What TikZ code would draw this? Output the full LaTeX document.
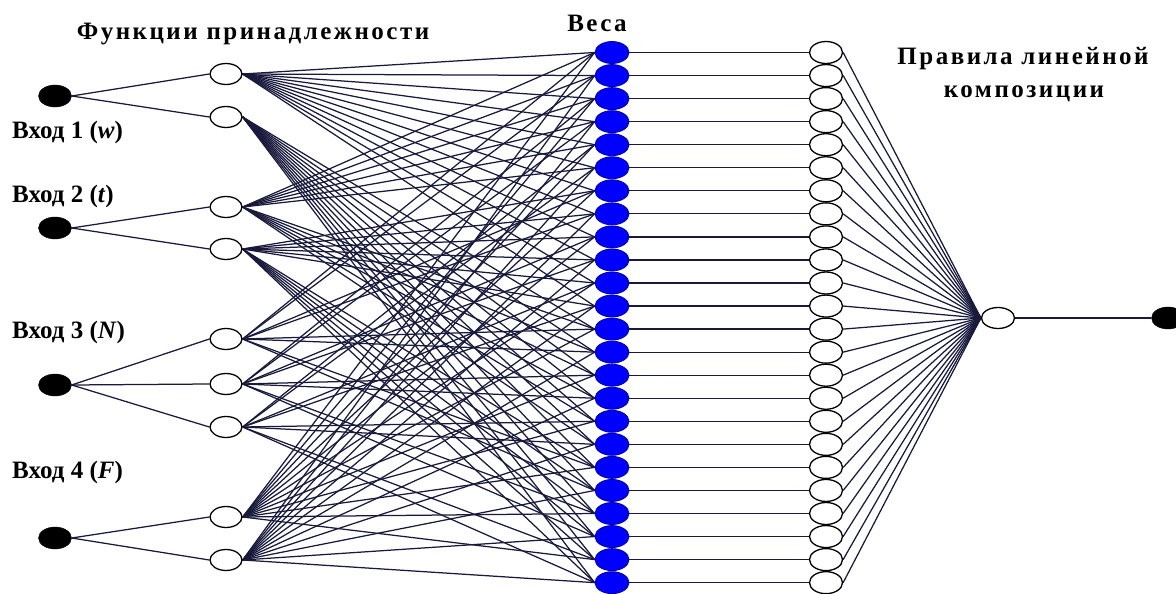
\documentclass[tikz,border=0pt]{standalone}
\usepackage{fontspec}
\setmainfont{Liberation Serif}
\newfontfamily\spaced[LetterSpace=10]{Liberation Serif}
\usetikzlibrary{shapes.geometric}
\pgfdeclarelayer{bg}
\pgfsetlayers{bg,main}
\definecolor{ln}{RGB}{25,25,60}
\definecolor{bl}{RGB}{0,0,255}
\definecolor{bld}{RGB}{0,0,160}
\begin{document}
\begin{tikzpicture}[x=1pt,y=-1pt,
  inp/.style={ellipse,fill=black,draw=black,minimum width=33pt,minimum height=22pt,inner sep=0pt},
  mf/.style={ellipse,fill=white,draw=black,line width=1.3pt,minimum width=32pt,minimum height=21pt,inner sep=0pt},
  wt/.style={ellipse,fill=bl,draw=bld,line width=0.8pt,minimum width=34pt,minimum height=22pt,inner sep=0pt},
  rl/.style={mf,minimum width=33pt,minimum height=22pt},
  conn/.style={draw=ln,line width=1.25pt},
  lab/.style={font=\fontsize{25}{28}\selectfont\bfseries,inner sep=0pt},
  ttl/.style={font=\fontsize{25}{28}\selectfont\spaced\bfseries,inner sep=0pt}]
\useasboundingbox (0,0) rectangle (1176,594);
% inputs
\node[inp] (in1) at (55,96) {};
\node[inp] (in2) at (55,228) {};
\node[inp] (in3) at (55,385) {};
\node[inp] (in4) at (55,538) {};
% membership functions
\node[mf] (m1) at (226,74) {};
\node[mf] (m2) at (226,117) {};
\node[mf] (m3) at (226,207) {};
\node[mf] (m4) at (226,249) {};
\node[mf] (m5) at (226,339) {};
\node[mf] (m6) at (226,384) {};
\node[mf] (m7) at (226,427) {};
\node[mf] (m8) at (226,517) {};
\node[mf] (m9) at (226,560) {};
% weights and rules
\foreach \k in {0,...,23} {
  \node[wt] (w\k) at (612,52.5+23.05*\k) {};
  \node[rl] (r\k) at (826,52.5+23.05*\k) {};
}
\node[mf,minimum width=33pt] (out) at (998,318) {};
\node[inp] (fin) at (1168,318) {};
% labels
\node[ttl,anchor=base] (t1) at (253,40) {Функции принадлежности};
\node[ttl,anchor=base] (t2) at (597,32) {Веса};
\node[ttl,anchor=base] (t3) at (1023,65) {Правила линейной};
\node[ttl,anchor=base] (t4) at (1024,97) {композиции};
\node[lab,anchor=base west] (l1) at (12,138) {Вход 1 (\textit{w})};
\node[lab,anchor=base west] (l2) at (12,202) {Вход 2 (\textit{t})};
\node[lab,anchor=base west] (l3) at (12,338) {Вход 3 (\textit{N})};
\node[lab,anchor=base west] (l4) at (12,478) {Вход 4 (\textit{F})};
% connectors
\begin{pgfonlayer}{bg}
\draw[conn] (in1.east) -- (m1.west);
\draw[conn] (in1.east) -- (m2.west);
\draw[conn] (in2.east) -- (m3.west);
\draw[conn] (in2.east) -- (m4.west);
\draw[conn] (in3.east) -- (m5.west);
\draw[conn] (in3.east) -- (m6.west);
\draw[conn] (in3.east) -- (m7.west);
\draw[conn] (in4.east) -- (m8.west);
\draw[conn] (in4.east) -- (m9.west);
\foreach \k in {0,...,23} {
  \pgfmathtruncatemacro\ma{1+floor(\k/12)}
  \pgfmathtruncatemacro\mb{3+mod(floor(\k/6),2)}
  \pgfmathtruncatemacro\mc{5+mod(floor(\k/2),3)}
  \pgfmathtruncatemacro\md{8+mod(\k,2)}
  \draw[conn] (m\ma.east) -- (w\k.west);
  \draw[conn] (m\mb.east) -- (w\k.west);
  \draw[conn] (m\mc.east) -- (w\k.west);
  \draw[conn] (m\md.east) -- (w\k.west);
  \draw[conn] (w\k.east) -- (r\k.west);
  \draw[conn] (r\k.east) -- (out.west);
}
\draw[conn] (out.east) -- (fin.west);
\end{pgfonlayer}
\end{tikzpicture}
\end{document}
